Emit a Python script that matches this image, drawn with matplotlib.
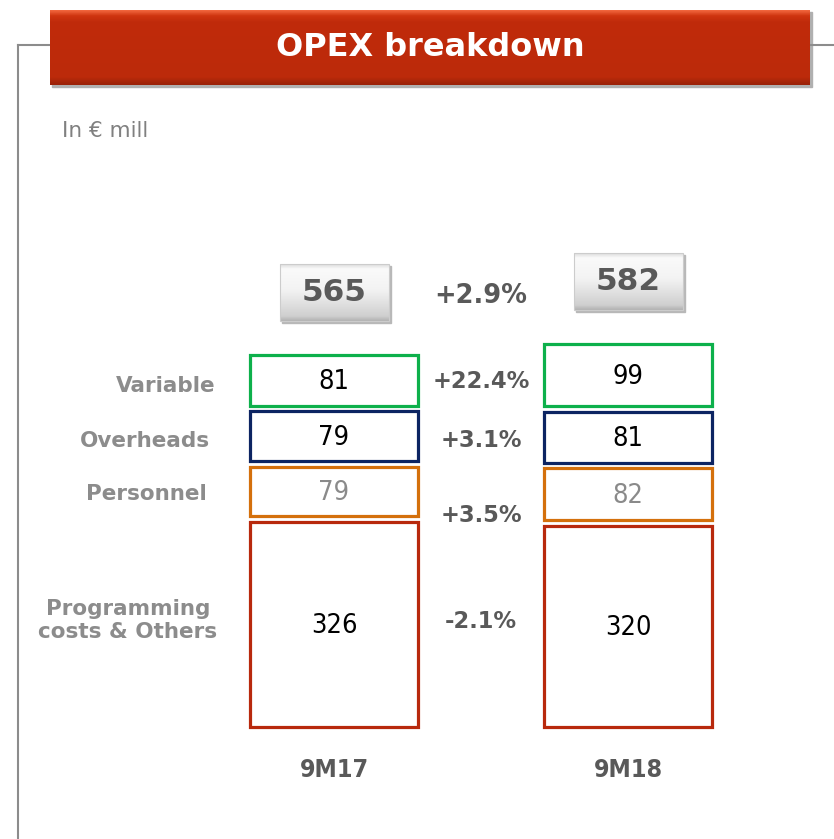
import numpy as np
import matplotlib.pyplot as plt
from matplotlib.patches import Rectangle
from matplotlib.colors import LinearSegmentedColormap

periods = ['9M17', '9M18']
categories = ['Programming\ncosts & Others', 'Personnel', 'Overheads', 'Variable']
values_9m17 = [326, 79, 79, 81]
values_9m18 = [320, 82, 81, 99]
totals = [565, 582]
changes = ['-2.1%', '+3.5%', '+3.1%', '+22.4%']
total_change = '+2.9%'

edge_colors = ['#b8290d', '#d4700c', '#0c2462', '#0db04b']
value_colors = ['black', '#8a8a8a', 'black', 'black']
label_x = [128, 146, 145, 166]   # centre of the left-hand row labels, px

W, H = 834, 839
PX = 0.629      # pixels per EUR mill
GAP = 9         # gap between stacked boxes (EUR mill)
STEP = 294      # px between the two bars
BAR_W = 168 / STEP

fig = plt.figure(figsize=(W / 100, H / 100), dpi=100)

# pixel overlay for frame and banner
deco = fig.add_axes([0, 0, 1, 1])
deco.axis('off')

frame_c = '#8c8c8c'
deco.plot([18, 50], [45, 45], color=frame_c, lw=1.5)
deco.plot([18, 18], [45, H], color=frame_c, lw=1.5)
deco.plot([810, W], [45, 45], color=frame_c, lw=1.5)

# banner with a simple vertical gradient
rows = np.linspace(0, 1, 75)
banner_cmap = LinearSegmentedColormap.from_list(
    'banner', [(0, '#f0643c'), (0.07, '#cf3510'), (0.15, '#c02b0b'),
               (0.9, '#bc2a0a'), (1, '#9a2208')])
deco.add_patch(Rectangle((52, 12), 760, 75, color='#b0b0b0', zorder=1))
deco.imshow(rows[:, None], cmap=banner_cmap, extent=[50, 810, 85, 10],
            aspect='auto', zorder=2)
deco.text(430, 48, 'OPEX breakdown', color='white', fontsize=23,
          fontweight='bold', ha='center', va='center', zorder=3)
deco.text(62, 131, 'In € mill', color='#808080', fontsize=15.5,
          ha='left', va='center')
deco.set_xlim(0, W)
deco.set_ylim(H, 0)

# data axes
ax = fig.add_axes([0, 0, 1, 1])
ax.axis('off')
ax.patch.set_alpha(0)

box_cmap = LinearSegmentedColormap.from_list(
    'box', [(0, '#b4b4b4'), (0.08, '#cfcfcf'), (0.55, '#f3f3f3'),
            (0.92, '#fafafa'), (1, '#dedede')])

for i, vals in enumerate([values_9m17, values_9m18]):
    bottom = 0
    for j, v in enumerate(vals):
        ax.bar(i, v, bottom=bottom, width=BAR_W, facecolor='white',
               edgecolor=edge_colors[j], linewidth=2.3)
        ax.text(i, bottom + v / 2 - 2 / PX, str(v), color=value_colors[j],
                fontsize=19.5, ha='center', va='center', fontstretch='condensed')
        bottom += v + GAP
    top = bottom - GAP
    # total box
    cy = top + 62 / PX
    bw, bh = 109 / STEP, 57 / PX
    ax.add_patch(Rectangle((i - bw / 2 + 2 / STEP, cy - bh / 2 - 2 / PX), bw, bh,
                           color='#b8b8b8', zorder=2))
    ax.imshow(rows[:, None], cmap=box_cmap,
              extent=[i - bw / 2, i + bw / 2, cy - bh / 2, cy + bh / 2],
              aspect='auto', zorder=3, origin='lower')
    ax.add_patch(Rectangle((i - bw / 2, cy - bh / 2), bw, bh, fill=False,
                           edgecolor='#cccccc', lw=0.8, zorder=4))
    ax.text(i, cy, str(totals[i]), color='#595959', fontsize=22.5,
            fontweight='bold', ha='center', va='center', zorder=5)
    ax.text(i, -68, periods[i], color='#595959', fontsize=18,
            fontweight='bold', ha='center', va='center', fontstretch='condensed')

# row labels and change percentages
b17 = np.cumsum([0] + values_9m17[:-1]) + GAP * np.arange(4)
b18 = np.cumsum([0] + values_9m18[:-1]) + GAP * np.arange(4)
c17 = b17 + np.array(values_9m17) / 2
c18 = b18 + np.array(values_9m18) / 2
label_nudge = [4, -3, -5, -6]  # px
pct_nudge = [4, -23, -4, -4]   # px
for j in range(4):
    ax.text((label_x[j] - 334) / STEP, c17[j] + label_nudge[j] / PX, categories[j],
            color='#8c8c8c', fontsize=15.5, fontweight='bold',
            ha='center', va='center', linespacing=1.2)
    ax.text(0.5, (c17[j] + c18[j]) / 2 + pct_nudge[j] / PX, changes[j],
            color='#595959', fontsize=16.3, fontweight='bold',
            ha='center', va='center')

top17 = sum(values_9m17) + 3 * GAP
ax.text(0.5, top17 + 59 / PX, total_change, color='#595959', fontsize=18.5,
        fontweight='bold', ha='center', va='center')

ax.set_xlim(-334 / STEP, (W - 334) / STEP)
ax.set_ylim(-112 / PX, (H - 112) / PX)

fig.savefig('out.png', dpi=100)
